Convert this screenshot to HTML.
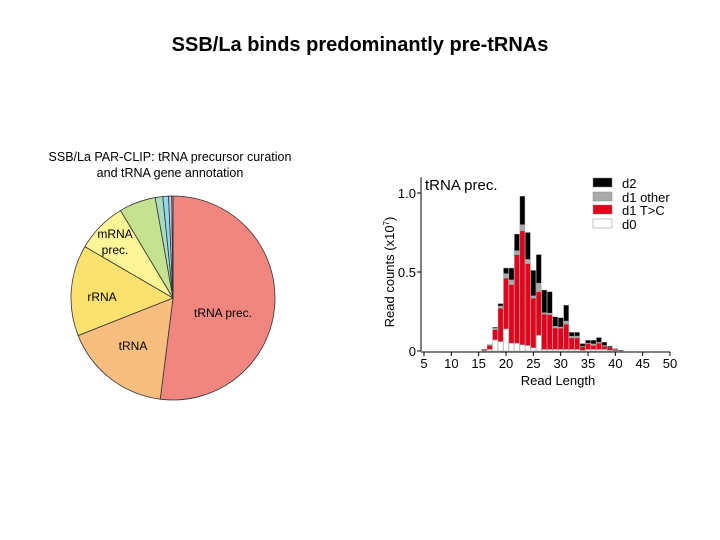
<!DOCTYPE html>
<html><head><meta charset="utf-8"><style>
body{margin:0;background:#fff;}
svg{display:block;font-family:"Liberation Sans",sans-serif;}
</style></head><body>
<svg width="720" height="540" viewBox="0 0 720 540">
<text x="360" y="51" text-anchor="middle" font-size="20" font-weight="bold">SSB/La binds predominantly pre-tRNAs</text>
<text x="170" y="161" text-anchor="middle" font-size="12.5">SSB/La PAR-CLIP: tRNA precursor curation</text>
<text x="170" y="177" text-anchor="middle" font-size="12.5">and tRNA gene annotation</text>
<g id="pie"></g>
<text x="223" y="317" text-anchor="middle" font-size="12">tRNA prec.</text>
<text x="133" y="350" text-anchor="middle" font-size="12">tRNA</text>
<text x="102" y="301" text-anchor="middle" font-size="12">rRNA</text>
<text x="115" y="238" text-anchor="middle" font-size="12">mRNA</text>
<text x="115" y="254" text-anchor="middle" font-size="12">prec.</text>
<g id="bars"></g>
<g id="axes"></g>
<text x="425" y="190" font-size="15">tRNA prec.</text>
<text x="558" y="385" text-anchor="middle" font-size="13">Read Length</text>
<text transform="translate(394,272) rotate(-90)" text-anchor="middle" font-size="13">Read counts (x10<tspan font-size="8" dy="-5">7</tspan><tspan dy="5">)</tspan></text>
<g>
<rect x="593" y="178" width="19" height="9" fill="#000" stroke="#888" stroke-width="0.5"/>
<text x="622" y="188" font-size="13">d2</text>
<rect x="593" y="192" width="19" height="9" fill="#aaa" stroke="#888" stroke-width="0.5"/>
<text x="622" y="202" font-size="13">d1 other</text>
<rect x="593" y="205" width="19" height="9" fill="#e2001a" stroke="#888" stroke-width="0.5"/>
<text x="622" y="215" font-size="13">d1 T&gt;C</text>
<rect x="593" y="219" width="19" height="9" fill="#fff" stroke="#888" stroke-width="0.5"/>
<text x="622" y="229" font-size="13">d0</text>
</g>
</svg>
<script>
const pieLabels=["tRNA prec.","tRNA","rRNA","mRNA prec.","other1","other2","other3","other4","other5"];
const pieValues=[52,17,14.4,8,5.8,1.2,0.9,0.5,0.2];
const pieColors=["#f08680","#f8be80","#fbe270","#fbf598","#c5e290","#a8dcc0","#90d8ec","#c8c8e8","#bbbbbb"];
const lengths=[16,17,18,19,20,21,22,23,24,25,26,27,28,29,30,31,32,33,34,35,36,37,38,39,40,41];
const d0=[.003,.01,.07,.06,.14,.05,.05,.04,.035,.02,.10,.01,.01,.01,.01,.01,.01,.01,.005,.01,.01,.01,.01,.005,.003,0];
const d1tc=[.007,.025,.065,.21,.32,.37,.56,.72,.518,.314,.275,.224,.22,.136,.135,.16,.073,.073,.023,.035,.025,.04,.02,.015,.007,0];
const d1other=[0,.002,.01,.015,.03,.03,.025,.04,.027,.016,.055,.009,.01,.011,.007,.02,.011,.012,.002,.005,.01,.006,.005,.002,.001,0];
const d2=[.002,.003,.005,.015,.035,.075,.105,.18,.17,.16,.18,.143,.135,.06,.058,.1,.024,.023,.017,.018,.023,.029,.021,.008,.004,.005];
const xTicks=[5,10,15,20,25,30,35,40,45,50];
const yTicks=[0,0.5,1.0];
const yTickLabels=["0","0.5","1.0"];
const NS="http://www.w3.org/2000/svg";
function mk(t,a,p){const e=document.createElementNS(NS,t);for(const k in a)e.setAttribute(k,a[k]);p.appendChild(e);return e;}
const pie=document.getElementById('pie');
const cx=173,cy=298,r=102;
const tot=pieValues.reduce((a,b)=>a+b,0);
let acc=0;
pieValues.forEach((v,i)=>{
  const a0=acc/tot*2*Math.PI;acc+=v;const a1=acc/tot*2*Math.PI;
  const x0=cx+r*Math.sin(a0),y0=cy-r*Math.cos(a0),x1=cx+r*Math.sin(a1),y1=cy-r*Math.cos(a1);
  const large=(a1-a0)>Math.PI?1:0;
  const p=mk('path',{d:`M${cx},${cy}L${x0},${y0}A${r},${r} 0 ${large} 1 ${x1},${y1}Z`,fill:pieColors[i],stroke:'#333','stroke-width':0.8},pie);
  
  
});
const X=v=>424+(v-5)*5.467;
const Y=v=>351-v*158;
const bars=document.getElementById('bars');
const bw=5;
lengths.forEach((L,i)=>{
  const segs=[[d0[i],'#fff'],[d1tc[i],'#e2001a'],[d1other[i],'#aaa'],[d2[i],'#000']];
  let base=0;
  const g=mk('g',{},bars);
  
  
  segs.forEach(([v,c])=>{
    if(v<=0)return;
    const rr=mk('rect',{x:X(L)-bw/2,y:Y(base+v),width:bw,height:Y(base)-Y(base+v),fill:c,stroke:'#999','stroke-width':0.4},g);
    
    
    base+=v;
  });
});
const ax=document.getElementById('axes');
const yl=mk('line',{x1:X(5)-3,y1:Y(0),x2:X(5)-3,y2:Y(1.1),stroke:'#000','stroke-width':1},ax);

const xl=mk('line',{x1:X(5)-3,y1:Y(0)+1,x2:X(50),y2:Y(0)+1,stroke:'#000','stroke-width':1},ax);

xTicks.forEach(t=>{
  const l=mk('line',{x1:X(t),y1:Y(0)+1,x2:X(t),y2:Y(0)+5,stroke:'#000'},ax);
  
  const tx=mk('text',{x:X(t),y:Y(0)+17,'text-anchor':'middle','font-size':13},ax);
  tx.textContent=t;
  
});
yTicks.forEach((t,i)=>{
  const l=mk('line',{x1:X(5)-7,y1:Y(t),x2:X(5)-3,y2:Y(t),stroke:'#000'},ax);
  
  const tx=mk('text',{x:X(5)-8,y:Y(t)+5,'text-anchor':'end','font-size':13},ax);
  tx.textContent=yTickLabels[i];
  
});
</script>
</body></html>
